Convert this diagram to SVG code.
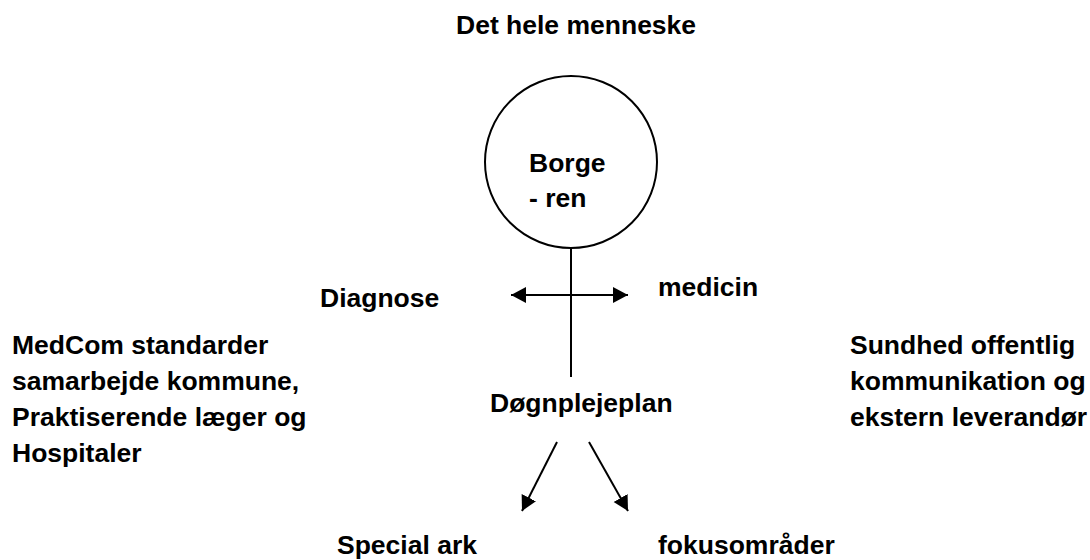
<svg xmlns="http://www.w3.org/2000/svg" width="1090" height="560" viewBox="0 0 1090 560">
<style>
text{font-family:"Liberation Sans",Arial,sans-serif;font-weight:bold;font-size:26.5px;fill:#000}
.ln{stroke:#000;stroke-width:2;fill:none}
</style>
<defs>
<marker id="ah" markerUnits="userSpaceOnUse" markerWidth="16" markerHeight="18" viewBox="0 0 16 18" refX="15" refY="9" orient="auto-start-reverse">
<path d="M0,1 L15,9 L0,17 Z" fill="#000"/>
</marker>
</defs>
<rect width="1090" height="560" fill="#fff"/>
<g id="title"><text x="456" y="34">Det hele menneske</text></g>
<g id="borgeren">
<circle cx="571" cy="162" r="86" class="ln"/>
<text x="529" y="172">Borge</text>
<text x="529" y="207">- ren</text>
</g>
<g id="diagnose"><text x="320" y="307">Diagnose</text></g>
<g id="medicin"><text x="658" y="296">medicin</text></g>
<g id="medcom">
<text x="12" y="354">MedCom standarder</text>
<text x="12" y="390">samarbejde kommune,</text>
<text x="12" y="426">Praktiserende læger og</text>
<text x="12" y="462">Hospitaler</text>
</g>
<g id="sundhed">
<text x="850" y="354">Sundhed offentlig</text>
<text x="850" y="390">kommunikation og</text>
<text x="850" y="426">ekstern leverandør</text>
</g>
<g id="doegnplejeplan"><text x="490" y="412">Døgnplejeplan</text></g>
<g id="specialark"><text x="337" y="554">Special ark</text></g>
<g id="fokus"><text x="658" y="554">fokusområder</text></g>
<g id="connectors">
<line x1="571" y1="248" x2="571" y2="377" class="ln"/>
<line x1="511" y1="295" x2="628" y2="295" class="ln" marker-start="url(#ah)" marker-end="url(#ah)"/>
<line x1="557" y1="442" x2="522" y2="511" class="ln" marker-end="url(#ah)"/>
<line x1="589" y1="442" x2="628" y2="511" class="ln" marker-end="url(#ah)"/>
</g>
</svg>
